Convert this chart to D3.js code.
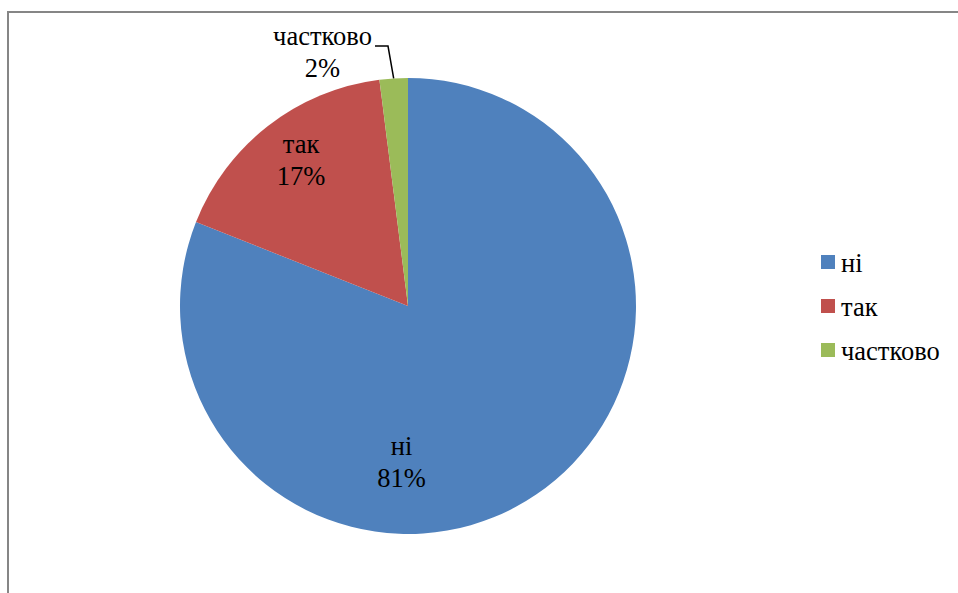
<!DOCTYPE html>
<html>
<head>
<meta charset="utf-8">
<script src="https://cdn.jsdelivr.net/npm/d3@7"></script>
<style>
  html, body { margin: 0; padding: 0; background: #fff; }
  svg { display: block; }
</style>
</head>
<body>
<svg id="chart" width="958" height="593"></svg>
<script>
// Survey answers and their shares (percent)
const categories = ["ні", "так", "частково"];
const shares = [81, 17, 2];
const colors = ["#4F81BD", "#C0504D", "#9BBB59"];

const width = 958, height = 593;
const cx = 408, cy = 306, radius = 228;
const fontSize = 26.5;
const fontFamily = "'Liberation Serif', 'Times New Roman', serif";

const svg = d3.select("#chart")
  .attr("font-family", fontFamily);

// Chart frame
svg.append("path")
  .attr("d", `M8,${height + 2} L8,12 L${width + 2},12`)
  .attr("fill", "none")
  .attr("stroke", "#868686")
  .attr("stroke-width", 2);

const color = d3.scaleOrdinal().domain(categories).range(colors);

const pie = d3.pie().sort(null).value(d => d.value);
const data = categories.map((c, i) => ({ name: c, value: shares[i] }));
const arcs = pie(data);

const arc = d3.arc().innerRadius(0).outerRadius(radius);

const g = svg.append("g").attr("transform", `translate(${cx},${cy})`);

g.selectAll("path.slice")
  .data(arcs)
  .join("path")
  .attr("class", "slice")
  .attr("d", arc)
  .attr("fill", d => color(d.data.name));

const total = d3.sum(shares);
const pct = v => Math.round(v / total * 100) + "%";

// Label anchors (centre of the two-line label) relative to the pie centre
const labelPos = {
  "ні": [-6.5, 165],
  "так": [-107, -137.5],
  "частково": [-85.5, -245]
};

arcs.forEach(d => {
  const small = (d.endAngle - d.startAngle) < 0.2;
  const [x, y] = labelPos[d.data.name];
  if (small) {
    // leader line from the outside label to the slice edge
    const mid = (d.startAngle + d.endAngle) / 2;
    const ex = radius * Math.sin(mid), ey = -radius * Math.cos(mid);
    g.append("polyline")
      .attr("points", [[x + 52.5, y - 15], [x + 65.5, y - 15], [ex, ey]].map(p => p.join(",")).join(" "))
      .attr("fill", "none")
      .attr("stroke", "#000")
      .attr("stroke-width", 1.5);
  }
  const t = g.append("text")
    .attr("text-anchor", "middle")
    .attr("font-family", fontFamily)
    .attr("font-size", fontSize)
    .attr("fill", "#000");
  t.append("tspan").attr("x", x).attr("y", y - 16).text(d.data.name);
  t.append("tspan").attr("x", x).attr("y", y + 16).text(pct(d.data.value));
});

// Legend
const legend = svg.append("g").attr("transform", "translate(821,255)");
const rows = legend.selectAll("g")
  .data(categories)
  .join("g")
  .attr("transform", (d, i) => `translate(0,${i * 44})`);
rows.append("rect")
  .attr("width", 14)
  .attr("height", 14)
  .attr("fill", d => color(d));
rows.append("text")
  .attr("x", 20)
  .attr("y", 17)
  .attr("font-family", fontFamily)
  .attr("font-size", fontSize)
  .attr("fill", "#000")
  .text(d => d);
</script>
</body>
</html>
